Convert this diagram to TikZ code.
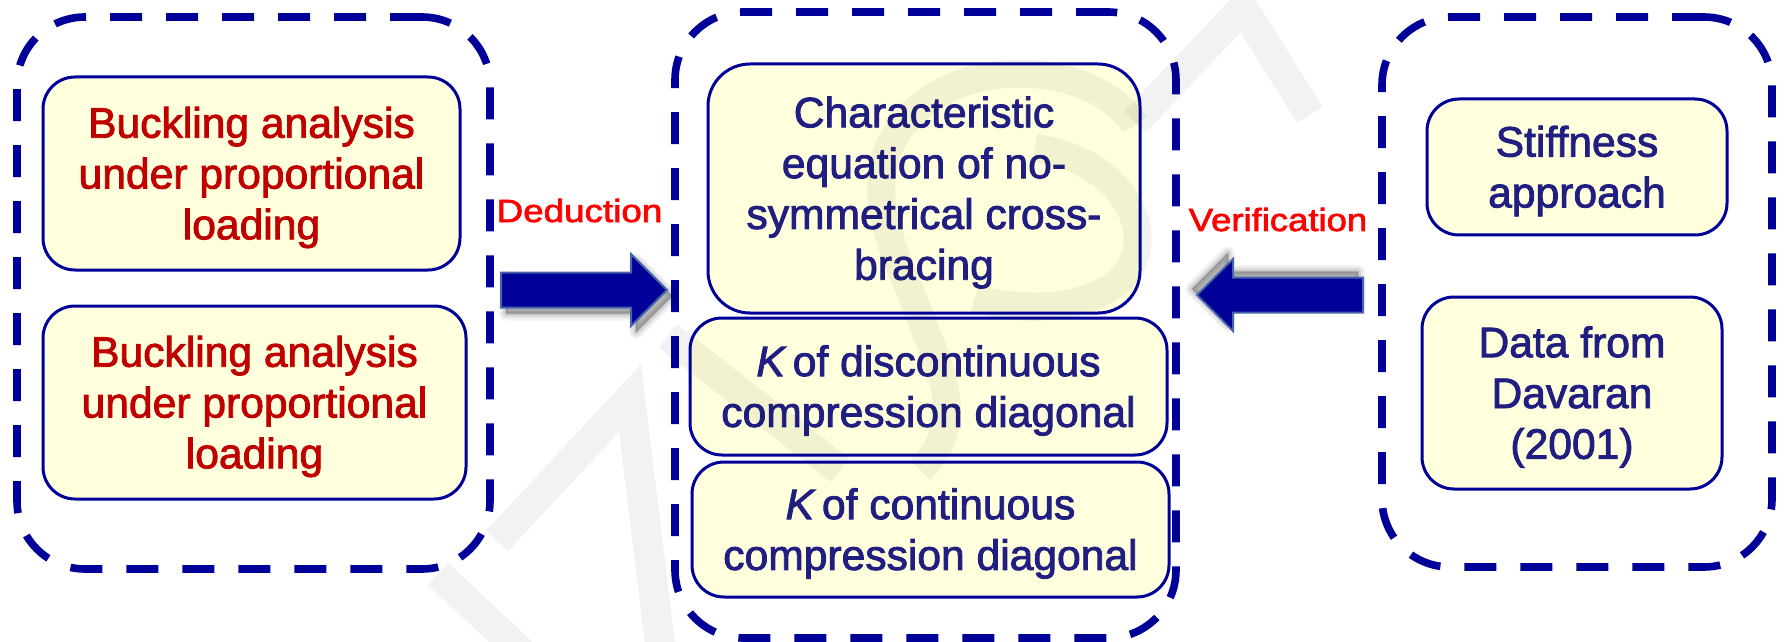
\documentclass[tikz,border=0pt]{standalone}
\usepackage{fontspec}
\setmainfont{Liberation Sans}
\newfontfamily\capfont{Liberation Sans}[FakeBold=2]
\usetikzlibrary{fit}

\definecolor{navy}{RGB}{0,0,153}
\definecolor{inkblue}{RGB}{32,30,128}
\definecolor{boxfill}{RGB}{255,255,221}
\definecolor{darkred}{RGB}{192,0,0}
\definecolor{arrowedge}{RGB}{70,100,170}

\tikzset{
  group/.style={draw=navy, line width=3.8pt, dash pattern=on 16pt off 12pt,
    rounded corners=34pt, inner sep=0pt},
  stage/.style={draw=navy, fill=boxfill, line width=1.5pt,
    rounded corners=16pt, inner sep=0pt},
  caption/.style={align=center, inner sep=0pt,
    font=\capfont\fontsize{21.3pt}{25.4pt}\selectfont, text=inkblue},
  redcaption/.style={caption, text=darkred},
  flowlabel/.style={inner sep=0pt, font=\capfont\fontsize{16pt}{19pt}\selectfont,
    text=red, anchor=base},
  blockarrow/.pic={
    % soft shadow
    \foreach \w/\o in {14/0.04,10/0.06,6/0.08,2/0.10}
      \filldraw[black, opacity=\o, line width=\w*0.5pt, line join=round, shift={(5,6)}]
        (-166,-17.5) -- (-36,-17.5) -- (-36,-36) -- (0,0) -- (-36,36)
        -- (-36,17.5) -- (-166,17.5) -- cycle;
    % arrow body
    \filldraw[fill=navy, draw=arrowedge, line width=1pt, line join=miter]
      (-166,-17.5) -- (-36,-17.5) -- (-36,-36) -- (0,0) -- (-36,36)
      -- (-36,17.5) -- (-166,17.5) -- cycle;
  }
}

\begin{document}
\begin{tikzpicture}[x=0.5pt, y=-0.5pt]
\useasboundingbox (0,0) rectangle (1785,642);

% dashed groups
\node[group, fit={(17,17) (490,569)}] (gL) {};
\node[group, fit={(675,12) (1176,638)}] (gM) {};
\node[group, fit={(1382,17) (1772,567)}] (gR) {};

% left group
\node[stage, fit={(43,77) (460,270)}] (bL1) {};
\node[stage, fit={(43,306) (466,499)}] (bL2) {};
\node[redcaption] (tL1) at ([yshift=-2pt]bL1.center) {Buckling analysis\\under proportional\\loading};
\node[redcaption] (tL2) at ([yshift=-2pt]bL2.center) {Buckling analysis\\under proportional\\loading};

% middle group
\node[stage, rounded corners=21pt, fit={(708,64) (1140,313)}] (bM1) {};
\node[stage, fit={(690,318) (1167,455)}] (bM2) {};
\node[stage, fit={(692,462) (1169,597)}] (bM3) {};
\node[caption] (tM1) at ([yshift=-2pt]bM1.center) {Characteristic\\equation of no-\\symmetrical cross-\\bracing};
\node[caption] (tM2) at ([yshift=-2pt]bM2.center) {\textit{K}\hspace{0.15em}of discontinuous\\compression diagonal};
\node[caption] (tM3) at ([yshift=-2pt]bM3.center) {\textit{K}\hspace{0.15em}of continuous\\compression diagonal};

% right group
\node[stage, fit={(1427,99) (1727,235)}] (bR1) {};
\node[stage, fit={(1422,297) (1722,489)}] (bR2) {};
\node[caption] (tR1) at ([yshift=-2pt]bR1.center) {Stiffness\\approach};
\node[caption] (tR2) at ([yshift=-2pt]bR2.center) {Data from\\Davaran\\(2001)};

% flow arrows and their labels
\coordinate (dedtip) at (667,290);
\coordinate (vertip) at (1197,295);
\pic at (dedtip) {blockarrow};
\pic[rotate=180] at (vertip) {blockarrow};
\node[flowlabel] (ded) at (579.5,222) {\scalebox{1.15}[1]{Deduction}};
\node[flowlabel] (ver) at (1278,231) {\scalebox{1.14}[1]{Verification}};

% faint background logo
\draw[black, opacity=0.05, line width=15pt, line join=miter]
  (497,541) -- (630,398) -- (662,660)
  (438,574) -- (530,660)
  (1135,122) -- (1243,8) -- (1310,115)
  (668,336) -- (840,470);
\draw[black, opacity=0.05, line width=14pt]
  (1135,125) .. controls (1090,55) and (930,50) .. (888,150)
    .. controls (865,210) and (905,270) .. (925,330)
    .. controls (950,390) and (960,430) .. (920,470)
  (1035,148) .. controls (1120,160) and (1160,230) .. (1125,275)
    .. controls (1090,315) and (1010,310) .. (975,298);
\end{tikzpicture}
\end{document}
